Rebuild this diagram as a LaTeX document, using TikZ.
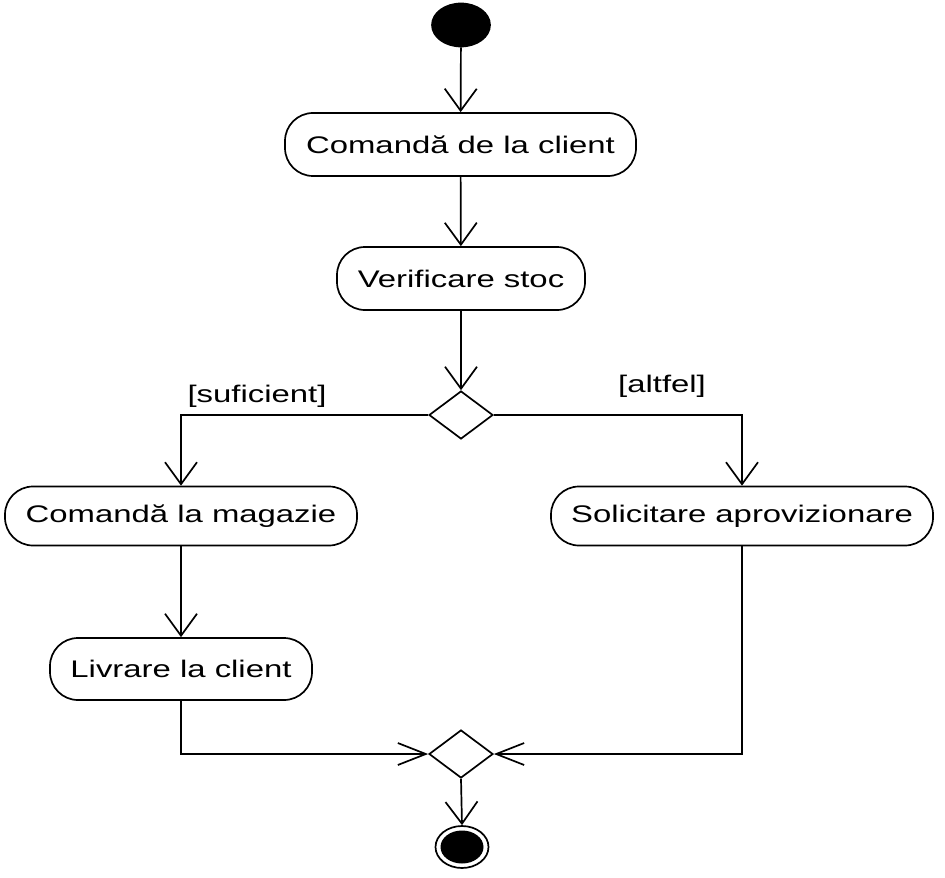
\documentclass[tikz,border=0pt]{standalone}
\usepackage{fontspec}
\setmainfont[FakeStretch=1.37]{Liberation Sans}
\usetikzlibrary{arrows.meta,shapes.geometric}
\begin{document}
\begin{tikzpicture}[x=0.5pt,y=-0.5pt,line width=0.85pt,
  every node/.style={font=\fontsize{12}{14}\selectfont},
  act/.style={draw,rounded corners=14pt,inner sep=0pt},
  dec/.style={draw,diamond,inner sep=0pt,minimum width=32pt,minimum height=24pt},
  varr/.style={-{Straight Barb[length=11pt,width=16pt]}},
  harr/.style={-{Straight Barb[length=14pt,width=11pt]}},
  guard/.style={inner sep=0pt}]
\useasboundingbox (0,0) rectangle (945,877);
\node[draw,fill=black,ellipse,minimum width=29pt,minimum height=21.5pt,inner sep=0pt] (start) at (461,25) {};
\node[act,minimum width=175.5pt,minimum height=31.5pt] (A) at (460.5,144.5) {Comandă de la client};
\node[act,minimum width=124pt,minimum height=31.5pt] (B) at (461,278.5) {Verificare stoc};
\node[dec] (d1) at (461,415) {};
\node[act,minimum width=176pt,minimum height=29.5pt] (C) at (181,516) {Comandă la magazie};
\node[act,minimum width=191pt,minimum height=29.5pt] (D) at (742,516) {Solicitare aprovizionare};
\node[act,minimum width=131pt,minimum height=31pt] (E) at (181,669) {Livrare la client};
\node[dec] (d2) at (461,754) {};
\node[draw,ellipse,minimum width=26.5pt,minimum height=21pt,inner sep=0pt] (end) at (462,847) {};
\node[fill=black,ellipse,minimum width=21.5pt,minimum height=16.5pt,inner sep=0pt] (endin) at (end.center) {};
\node[guard] (lsuf) at (257,396) {[suficient]};
\node[guard] (lalt) at (662,386) {[altfel]};
\draw[varr] (start) -- (A);
\draw[varr] (A) -- (B);
\draw[varr] (B) -- (d1);
\draw[varr] (d1.west) -| (C.north);
\draw[varr] (d1.east) -| (D.north);
\draw[varr] (C) -- (E);
\draw[harr] (E.south) |- (d2.west);
\draw[harr] (D.south) |- (d2.east);
\draw[varr] (d2.south) -- (end.north);
\end{tikzpicture}
\end{document}
